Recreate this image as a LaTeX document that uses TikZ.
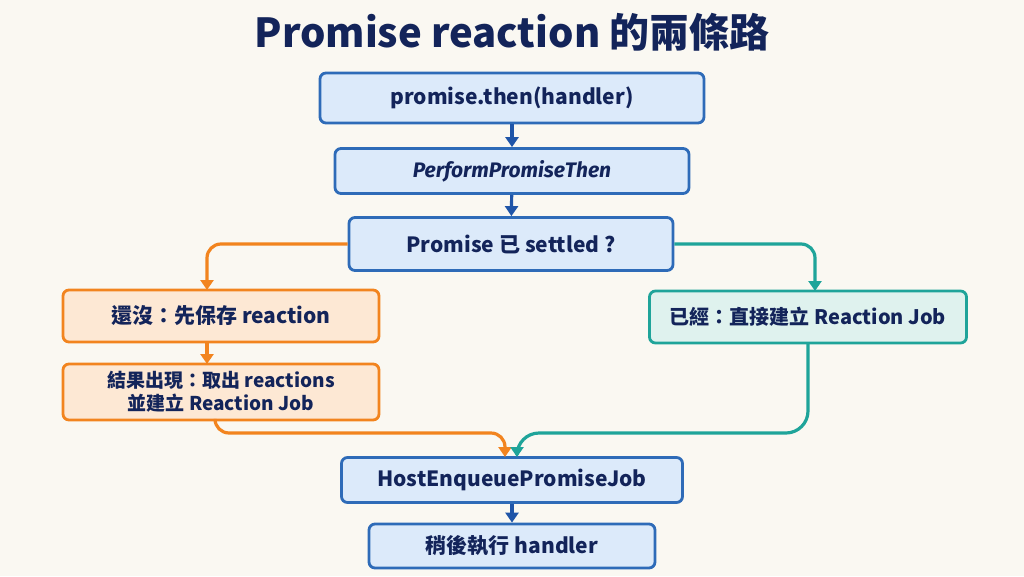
\documentclass[tikz,border=0pt]{standalone}
\usepackage{fontspec}
\setmainfont{Noto Sans CJK TC}
\newfontfamily\itf{Fira Sans}
\usetikzlibrary{arrows.meta}
\definecolor{bg}{HTML}{FAF8F2}
\definecolor{bfill}{HTML}{DCEAFA}
\definecolor{bline}{HTML}{2E6BB8}
\definecolor{ofill}{HTML}{FDE8D4}
\definecolor{oline}{HTML}{F2841F}
\definecolor{tfill}{HTML}{DFF2EE}
\definecolor{tline}{HTML}{1FA49A}
\definecolor{navy}{HTML}{13245A}
\definecolor{ablue}{HTML}{1F55A8}
\begin{document}
\begin{tikzpicture}[x=1pt,y=-1pt,
 box/.style={draw,line width=2.8pt,rounded corners=6pt,minimum height=#1,anchor=center,align=center,text=navy,font=\fontsize{21}{24}\selectfont\bfseries},
 bb/.style={fill=bfill,draw=bline},
 ob/.style={fill=ofill,draw=oline},
 tb/.style={fill=tfill,draw=tline},
 arr/.style={line width=3.2pt,-{Triangle[length=10pt,width=13pt]},rounded corners=14pt}]
\fill[bg] (0,0) rectangle (1024,576);
\useasboundingbox (0,0) rectangle (1024,576);
\node[font=\fontsize{40}{46}\selectfont\bfseries,text=navy] (title) at (512,32) {Promise reaction 的兩條路};
\node[box=50pt,bb,minimum width=384pt] (a) at (512,98) {promise.then(handler)};
\node[box=45pt,bb,minimum width=354pt] (b) at (512,171) {\itf\itshape\bfseries PerformPromiseThen};
\node[box=53pt,bb,minimum width=324pt] (c) at (511,244) {Promise 已 settled ?};
\node[box=52pt,ob,minimum width=316pt] (l1) at (221,316) {還沒：先保存 reaction};
\node[box=56pt,ob,minimum width=316pt,font=\fontsize{19}{23}\selectfont\bfseries] (l2) at (221,392) {結果出現：取出 reactions\\並建立 Reaction Job};
\node[box=52pt,tb,minimum width=317pt,font=\fontsize{20}{24}\selectfont\bfseries] (r) at (808,317) {已經：直接建立 Reaction Job};
\node[box=45pt,bb,minimum width=341pt] (h) at (512,480) {HostEnqueuePromiseJob};
\node[box=44pt,bb,minimum width=286pt] (e) at (512,546) {稍後執行 handler};
\draw[arr,ablue] (a) -- (b);
\draw[arr,ablue] (b) -- (c);
\draw[arr,ablue] (h) -- (e);
\draw[arr,oline] (c.west) -| (207,290);
\draw[arr,tline] (c.east) -| (815,291);
\draw[arr,oline] (207,342) -- (207,364);
\draw[arr,oline] (215,420) |- (505,433) -- (505,457);
\draw[arr,tline,rounded corners=22pt] (808,343) |- (517,433) -- (517,457);
\end{tikzpicture}
\end{document}
